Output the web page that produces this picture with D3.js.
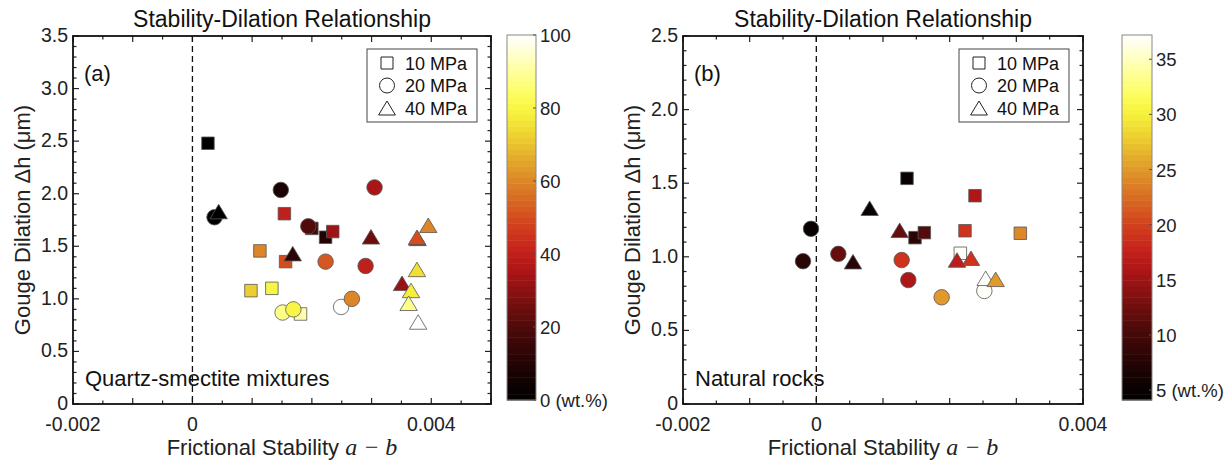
<!DOCTYPE html>
<html>
<head>
<meta charset="utf-8">
<script src="https://cdn.jsdelivr.net/npm/d3@7"></script>
<style>
  body { margin: 0; background: #fff; }
  svg { display: block; font-family: "Liberation Sans", Arial, sans-serif; }
  .tick-label { font-size: 19.5px; fill: #222; }
  .cb-label { font-size: 18.5px; fill: #222; }
</style>
</head>
<body>
<svg id="chart" width="1227" height="462"></svg>
<script>
'use strict'

// [a - b, dilation (um), clay content (wt.%)]
const quartzSmectite10MPa = [
  [0.00026, 2.48, 0], [0.00154, 1.81, 40], [0.0020, 1.67, 18], [0.00223, 1.586, 10],
  [0.00235, 1.64, 33], [0.00113, 1.456, 60], [0.00156, 1.354, 50], [0.00098, 1.078, 72],
  [0.00133, 1.10, 80], [0.00181, 0.856, 92]
]
const quartzSmectite20MPa = [
  [0.00148, 2.036, 8], [0.00305, 2.06, 35], [0.00037, 1.776, 0], [0.00194, 1.69, 20],
  [0.00223, 1.354, 52], [0.0029, 1.313, 40], [0.00151, 0.87, 88], [0.00169, 0.90, 80],
  [0.00249, 0.923, 100], [0.00267, 1.00, 60]
]
const quartzSmectite40MPa = [
  [0.00044, 1.83, 0], [0.00299, 1.59, 25], [0.00377, 1.575, 40], [0.00376, 1.586, 50],
  [0.00395, 1.70, 60], [0.00168, 1.43, 12], [0.00376, 1.28, 75], [0.00351, 1.148, 32],
  [0.00366, 1.08, 78], [0.00362, 0.958, 88], [0.00378, 0.78, 100]
]

const naturalRocks10MPa = [
  [0.00136, 1.533, 5], [0.00238, 1.415, 16], [0.00148, 1.13, 8], [0.00162, 1.164, 11],
  [0.00223, 1.177, 19], [0.00306, 1.16, 24], [0.00216, 1.024, 37]
]
const naturalRocks20MPa = [
  [-0.00008, 1.19, 5], [-0.0002, 0.97, 8], [0.00033, 1.02, 12], [0.00128, 0.978, 19],
  [0.00138, 0.842, 16], [0.00188, 0.725, 25], [0.00252, 0.768, 37]
]
const naturalRocks40MPa = [
  [0.0008, 1.33, 5], [0.00125, 1.18, 12], [0.00055, 0.967, 8], [0.00211, 0.978, 17],
  [0.00232, 0.99, 19], [0.00254, 0.854, 37], [0.00269, 0.847, 25]
]

const pressureLabels = ['10 MPa', '20 MPa', '40 MPa']
const xTicks = [-0.002, 0, 0.004]
const yTicksA = [0, 0.5, 1.0, 1.5, 2.0, 2.5, 3.0, 3.5]
const yTicksB = [0, 0.5, 1.0, 1.5, 2.0, 2.5]
const colorTicksA = [0, 20, 40, 60, 80, 100]
const colorTicksB = [5, 10, 15, 20, 25, 30, 35]

// black -> red -> orange -> yellow -> white
const heatStops = ['#000000', '#220404', '#4c0a0a', '#8c1212', '#c8181c', '#d44c1e',
  '#dc8628', '#e8c22e', '#fbff36', '#ffff9c', '#ffffff']
const heat = d3.interpolateRgbBasis(heatStops)

const svg = d3.select('#chart')

function markerPath (shape, size) {
  if (shape === 'square') {
    const h = size / 2
    return `M${-h},${-h}H${h}V${h}H${-h}Z`
  }
  if (shape === 'circle') {
    const r = size / 2
    return `M${r},0A${r},${r},0,1,1,${-r},0A${r},${r},0,1,1,${r},0Z`
  }
  // triangle centred on its bounding box
  const w = size * 0.6, h = size / 2
  return `M0,${-h}L${w},${h}L${-w},${h}Z`
}

const shapes = ['square', 'circle', 'triangle']
const shapeSize = { square: 12.5, circle: 15.5, triangle: 14.5 }

function drawPanel (cfg) {
  const g = svg.append('g')
  const x = d3.scaleLinear().domain(cfg.xDomain).range([cfg.left, cfg.right])
  const y = d3.scaleLinear().domain(cfg.yDomain).range([cfg.bottom, cfg.top])
  const c = d3.scaleLinear().domain(cfg.cDomain).range([0, 1])

  // axes box with inward ticks on all four sides
  const xMinor = d3.range(cfg.xDomain[0], cfg.xDomain[1] + 1e-9, 0.0005)
  const yMinor = d3.range(cfg.yDomain[0], cfg.yDomain[1] + 1e-9, 0.1)
  const yMajor = cfg.yTicks

  const ticks = g.append('g').attr('stroke', '#222').attr('stroke-width', 1.2)
  xMinor.forEach(v => {
    const major = Math.abs(Math.round(v * 1000) - v * 1000) < 1e-6
    const len = major ? 6 : 3.5
    ticks.append('line').attr('x1', x(v)).attr('x2', x(v)).attr('y1', cfg.bottom).attr('y2', cfg.bottom - len)
    ticks.append('line').attr('x1', x(v)).attr('x2', x(v)).attr('y1', cfg.top).attr('y2', cfg.top + len)
  })
  yMinor.forEach(v => {
    const major = yMajor.some(t => Math.abs(t - v) < 1e-6)
    const len = major ? 6 : 3.5
    ticks.append('line').attr('x1', cfg.left).attr('x2', cfg.left + len).attr('y1', y(v)).attr('y2', y(v))
    ticks.append('line').attr('x1', cfg.right).attr('x2', cfg.right - len).attr('y1', y(v)).attr('y2', y(v))
  })

  g.append('rect')
    .attr('x', cfg.left).attr('y', cfg.top)
    .attr('width', cfg.right - cfg.left).attr('height', cfg.bottom - cfg.top)
    .attr('fill', 'none').attr('stroke', '#111').attr('stroke-width', 1.8)

  // zero-stability line
  g.append('line')
    .attr('x1', x(0)).attr('x2', x(0)).attr('y1', cfg.top).attr('y2', cfg.bottom)
    .attr('stroke', '#111').attr('stroke-width', 1.3).attr('stroke-dasharray', '6,4')

  g.selectAll('.x-label').data(xTicks).enter().append('text')
    .attr('class', 'tick-label')
    .attr('x', d => x(d)).attr('y', cfg.bottom + 27)
    .attr('text-anchor', 'middle')
    .text(d => d === 0 ? '0' : d3.format('.3f')(d).replace('\u2212', '-'))

  g.selectAll('.y-label').data(cfg.yTicks).enter().append('text')
    .attr('class', 'tick-label')
    .attr('x', cfg.left - 5).attr('y', d => y(d) + 6)
    .attr('text-anchor', 'end')
    .text(d => d === 0 ? '0' : d3.format('.1f')(d))

  g.append('text')
    .attr('x', (cfg.left + cfg.right) / 2).attr('y', 27)
    .attr('text-anchor', 'middle').attr('font-size', 23).attr('fill', '#111')
    .text('Stability-Dilation Relationship')

  const xl = g.append('text')
    .attr('x', (cfg.left + cfg.right) / 2).attr('y', 455)
    .attr('text-anchor', 'middle').attr('font-size', 22).attr('fill', '#222')
  xl.append('tspan').text('Frictional Stability ')
  xl.append('tspan').attr('font-family', '"Liberation Serif", "Times New Roman", serif')
    .attr('font-style', 'italic').attr('font-size', 24).text('a \u2212 b')

  g.append('text')
    .attr('transform', `translate(${cfg.left - 43},${(cfg.top + cfg.bottom) / 2}) rotate(-90)`)
    .attr('text-anchor', 'middle').attr('font-size', 22).attr('fill', '#222')
    .text('Gouge Dilation \u0394h (\u03bcm)')

  g.append('text')
    .attr('x', cfg.left + 11).attr('y', cfg.top + 45)
    .attr('font-size', 22).attr('fill', '#111').text(cfg.tag)

  g.append('text')
    .attr('x', cfg.left + 12).attr('y', cfg.bottom - 18)
    .attr('font-size', 22).attr('fill', '#111').text(cfg.note)

  // data markers: 10 MPa squares, then 20 MPa circles, then 40 MPa triangles
  cfg.series.forEach((rows, i) => {
    g.append('g').selectAll('path').data(rows).enter().append('path')
      .attr('transform', d => `translate(${x(d[0])},${y(d[1])})`)
      .attr('d', markerPath(shapes[i], shapeSize[shapes[i]]))
      .attr('fill', d => heat(Math.max(0, Math.min(1, c(d[2])))))
      .attr('stroke', '#555').attr('stroke-width', 0.8)
  })

  // legend
  const lw = 110, lh = 73
  const lx = cfg.right - 14 - lw, ly = cfg.top + 13
  const legend = g.append('g').attr('transform', `translate(${lx},${ly})`)
  legend.append('rect').attr('width', lw).attr('height', lh)
    .attr('fill', '#fff').attr('stroke', '#444').attr('stroke-width', 1)
  pressureLabels.forEach((label, i) => {
    const row = legend.append('g').attr('transform', `translate(20,${14 + i * 22.5})`)
    row.append('path').attr('d', markerPath(shapes[i], shapeSize[shapes[i]] - 0.5))
      .attr('fill', 'none').attr('stroke', '#222').attr('stroke-width', 1)
    row.append('text').attr('x', 18).attr('y', 6.5)
      .attr('font-size', 18).attr('fill', '#111').text(label)
  })

  // colour bar
  const cb = g.append('g')
  const cy = d3.scaleLinear().domain(cfg.cDomain).range([cfg.cbBottom, cfg.cbTop])
  const steps = 64
  const band = (cfg.cbBottom - cfg.cbTop) / steps
  cb.selectAll('rect').data(d3.range(steps)).enter().append('rect')
    .attr('x', cfg.cbLeft).attr('width', cfg.cbWidth)
    .attr('y', i => cfg.cbBottom - (i + 1) * band).attr('height', band + 0.5)
    .attr('fill', i => heat((i + 0.5) / steps))
  cb.append('rect')
    .attr('x', cfg.cbLeft).attr('y', cfg.cbTop).attr('width', cfg.cbWidth)
    .attr('height', cfg.cbBottom - cfg.cbTop)
    .attr('fill', 'none').attr('stroke', '#888').attr('stroke-width', 1)
  cb.selectAll('.cb-tick').data(cfg.cTicks).enter().append('line')
    .attr('x1', cfg.cbLeft + cfg.cbWidth - 3).attr('x2', cfg.cbLeft + cfg.cbWidth)
    .attr('y1', d => cy(d)).attr('y2', d => cy(d))
    .attr('stroke', '#555').attr('stroke-width', 1)
  cb.selectAll('.cb-label').data(cfg.cTicks).enter().append('text')
    .attr('class', 'cb-label')
    .attr('x', cfg.cbLeft + cfg.cbWidth + 4).attr('y', d => cy(d) + 7)
    .text((d, i) => i === 0 ? `${d} (wt.%)` : d)
}

drawPanel({
  left: 73, right: 491, top: 36, bottom: 404,
  xDomain: [-0.002, 0.005], yDomain: [0, 3.5], yTicks: yTicksA,
  cDomain: [0, 100], cTicks: colorTicksA,
  cbLeft: 507, cbWidth: 29, cbTop: 35, cbBottom: 400,
  tag: '(a)', note: 'Quartz-smectite mixtures',
  series: [quartzSmectite10MPa, quartzSmectite20MPa, quartzSmectite40MPa]
})

drawPanel({
  left: 683, right: 1083, top: 36, bottom: 404,
  xDomain: [-0.002, 0.004], yDomain: [0, 2.5], yTicks: yTicksB,
  cDomain: [4.1, 37.2], cTicks: colorTicksB,
  cbLeft: 1122, cbWidth: 30, cbTop: 35, cbBottom: 400,
  tag: '(b)', note: 'Natural rocks',
  series: [naturalRocks10MPa, naturalRocks20MPa, naturalRocks40MPa]
})
</script>
</body>
</html>
